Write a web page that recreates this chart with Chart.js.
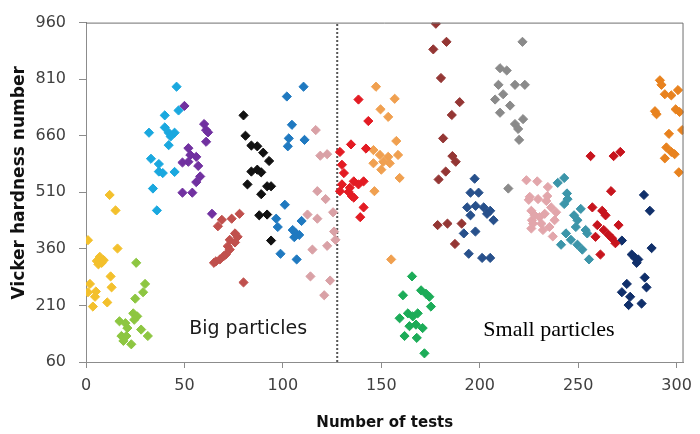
<!DOCTYPE html>
<html>
<head>
<meta charset="utf-8">
<script src="https://cdn.jsdelivr.net/npm/chart.js@4/dist/chart.umd.min.js"></script>
<style>
  html, body { margin: 0; padding: 0; background: #ffffff; }
  #wrap { width: 700px; height: 434px; }
</style>
</head>
<body>
<div id="wrap"><canvas id="c" width="700" height="434"></canvas></div>
<script>
// ---------- data ----------
const xTickValues = [0, 50, 100, 150, 200, 250, 300];
const yTickValues = [60, 210, 360, 510, 660, 810, 960];
const xTitle = 'Number of tests';
const yTitle = 'Vicker hardness number';
const dividerX = 127.6;
const labelBig = 'Big particles';
const labelSmall = 'Small particles';

const goldPts = [[12,503],[15,462],[1,383],[16,361],[7,339],[5.5,328],[8,323],[6.3,319],[9,330],[12.5,287],[13,258],[2,267],[1,245],[5,247],[4.6,233],[10.8,218],[3.5,207]];
const limePts = [[25.5,323],[30,267],[29,245],[25,228],[24,189],[26,181],[24.5,172],[17,168],[20,163],[21,150],[28,146],[31.4,129],[18,129],[20.5,129],[19,116],[23,107]];
const cyanPts = [[46,790],[47,727],[40,714],[32,668],[40,682],[42,668],[45,668],[43,658],[42,635],[33,599],[37,585],[37,565],[39,561],[45,564],[34,520],[36,462]];
const purplePts = [[50,739],[60,691],[61,675],[62,669],[61,644],[52,627],[53,609],[56,604],[49,589],[52,591],[57,580],[58,552],[56,537],[49,509],[54,509],[64,453]];
const brickPts = [[65,323],[66,327],[67,420],[68,332],[69,437],[70,341],[71,345],[72,367],[73,358],[73,384],[74,440],[75.7,401],[75.7,377],[77,392],[78,453],[80,271]];
const blackPts = [[80,714],[81,660],[84,634],[87,632],[90,615],[93,593],[84,565],[87,570],[89,563],[82,531],[92,526],[94,526],[89,505],[88,449],[92,451],[94,382]];
const bluePts = [[102,764],[110.5,790],[104.6,689],[103,653],[102.5,632],[111,649],[101,477],[96.6,440],[97.4,418],[109.5,434],[105,410],[106.6,401],[108.3,397],[105.8,391],[98.8,347],[107,332]];
const rosePts = [[116.7,675],[119,607],[122.5,611],[117.5,513],[121.7,492],[112.5,451],[117.5,440],[125.5,457],[126,406],[126.7,384],[122.5,368],[115,358],[114,287],[124,276],[121,237]];
const redPts = [[138.4,756],[143.4,699],[129,617],[134.6,637],[142.2,626],[130,583],[131,561],[130,531],[136,539],[141,539],[138.4,531],[129,513],[133.4,511],[135,500],[134,522],[136,496],[141,470],[139.3,444]];
const apricotPts = [[147.3,790],[156.8,758],[149.6,730],[153.5,710],[157.6,646],[146,622],[149.3,609],[153.5,604],[158.5,609],[151,591],[146,587],[154.3,587],[150,570],[159.3,548],[146.5,513],[155,332]];
const maroonPts = [[177.7,957],[176.4,889],[183.1,909],[180.3,813],[189.8,749],[185.8,715],[181.4,653],[186.1,606],[187.8,591],[182.7,565],[179.1,544],[178.6,423],[183.6,427],[190.8,427],[187.4,373]];
const greenPts = [[165.6,287],[161,237],[170.2,250],[172.7,241],[174.4,233],[175.2,207],[159.3,176],[163.5,189],[166,181],[168.5,189],[164.3,155],[167.6,159],[171,150],[161.8,129],[168,124],[171.9,83]];
const steelPts = [[197.4,546],[195.3,509],[199.4,509],[193.6,470],[197.9,474],[202,470],[205.3,461],[203.7,453],[207,436],[195.3,449],[191.9,401],[197.8,406],[194.4,347],[201.2,336],[205.3,336]];
const grayPts = [[221.7,909],[210.3,839],[213.7,833],[209.5,795],[217.9,795],[222.9,795],[211.9,770],[207.8,756],[215.4,740],[210.3,721],[222,704],[217.9,691],[219.5,678],[220,649],[214.5,520]];
const blushPts = [[223.7,542],[229.2,539],[234.6,524],[225.4,498],[234.3,500],[224.9,490],[226.2,461],[226.5,436],[226.2,414],[229.6,492],[233.8,487],[236.3,470],[227.9,449],[230.4,444],[233,453],[238.8,457],[231.3,427],[235.4,418],[227.1,427],[238,436],[237.1,393],[232.1,410]];
const tealPts = [[239.6,535],[242.9,548],[244.3,507],[244.6,492],[242.9,479],[251.3,466],[247.9,449],[249.6,436],[248.8,418],[253.8,410],[254.6,401],[243.8,401],[246.3,384],[241.3,371],[249.6,371],[252.1,358],[255.5,332]];
const crimsonPts = [[256.3,606],[268,606],[271.4,617],[266.7,513],[257.2,470],[262.2,461],[263.9,449],[259.7,423],[270.5,423],[263,410],[265.5,397],[267.2,388],[258.8,392],[268.9,375],[261.3,345]];
const navyPts = [[283.4,503],[286.4,461],[287.3,362],[272.2,382],[277.2,345],[278.9,336],[279.7,323],[280.5,332],[283.8,284],[274.7,267],[284.7,258],[272.2,245],[276.4,233],[282.2,215],[275.6,211]];
const orangePts = [[291.5,807],[292.3,795],[294,770],[297.3,767],[300.7,781],[289,725],[289.8,717],[299.5,730],[301.5,723],[302.8,675],[296.1,665],[294.8,629],[297.3,617],[299,611],[294,600],[301.1,563]];

// ---------- build chart ----------
const groups = [
  [goldPts, '#F3C02C'], [limePts, '#8DC641'], [cyanPts, '#1AA8DF'], [purplePts, '#7131A0'],
  [brickPts, '#C0504D'], [blackPts, '#111111'], [bluePts, '#1F79C0'], [rosePts, '#D9A1A6'],
  [redPts, '#E31B23'], [apricotPts, '#F0A050'], [maroonPts, '#943634'], [greenPts, '#1CAC58'],
  [steelPts, '#27508B'], [grayPts, '#8A8A8A'], [blushPts, '#E2A6AB'], [tealPts, '#3C95A9'],
  [crimsonPts, '#C7141D'], [navyPts, '#102F6A'], [orangePts, '#E8821E']
];

const datasets = groups.map(([pts, col]) => ({
  type: 'scatter',
  data: pts.map(([x, y]) => ({x, y})),
  backgroundColor: col,
  borderColor: col,
  borderWidth: 1,
  pointStyle: 'rectRot',
  pointRadius: 4.6,
  pointHoverRadius: 4.6,
  order: 1
}));

datasets.push({
  type: 'line',
  data: [{x: dividerX, y: yTickValues[0]}, {x: dividerX, y: yTickValues[yTickValues.length - 1]}],
  borderColor: '#555555',
  borderWidth: 2,
  borderDash: [2, 2],
  pointRadius: 0,
  fill: false,
  order: 100
});

const framePlugin = {
  id: 'frame',
  afterDatasetsDraw(chart) {
    const {ctx, chartArea: a, scales} = chart;
    ctx.save();
    ctx.strokeStyle = '#6f6f6f';
    ctx.lineWidth = 1;
    ctx.beginPath();
    ctx.moveTo(a.left, a.top + 0.5);
    ctx.lineTo(a.right - 0.5, a.top + 0.5);
    ctx.lineTo(a.right - 0.5, a.bottom);
    ctx.stroke();
    // region labels
    ctx.fillStyle = '#1a1a1a';
    ctx.textBaseline = 'alphabetic';
    ctx.textAlign = 'left';
    ctx.font = '19px "DejaVu Sans"';
    ctx.fillText(labelBig, scales.x.getPixelForValue(52.4), scales.y.getPixelForValue(134));
    ctx.fillStyle = '#000000';
    ctx.font = '22px "Liberation Serif"';
    ctx.fillText(labelSmall, scales.x.getPixelForValue(201.8), scales.y.getPixelForValue(129));
    // y axis title
    ctx.save();
    ctx.translate(20, scales.y.getPixelForValue(535));
    ctx.rotate(-Math.PI / 2);
    ctx.textAlign = 'center';
    ctx.textBaseline = 'middle';
    ctx.fillStyle = '#111111';
    ctx.font = 'bold 17px "DejaVu Sans"';
    ctx.fillText(yTitle, 0, 0);
    ctx.restore();
    ctx.restore();
  }
};

new Chart(document.getElementById('c'), {
  type: 'scatter',
  data: {datasets},
  plugins: [framePlugin],
  options: {
    responsive: false,
    devicePixelRatio: 1,
    animation: false,
    layout: {padding: {top: 13, right: 9, bottom: 0, left: 0}},
    plugins: {legend: {display: false}, tooltip: {enabled: false}},
    scales: {
      x: {
        type: 'linear',
        min: 0,
        max: 303.5,
        afterBuildTicks: s => { s.ticks = xTickValues.map(v => ({value: v})); },
        afterFit: s => { s.height = 72; },
        grid: {drawOnChartArea: false, drawTicks: true, tickLength: 6, color: '#8c8c8c'},
        border: {display: true, color: '#8c8c8c', width: 1},
        ticks: {color: '#404040', font: {family: 'DejaVu Sans', size: 16}, padding: 8, maxRotation: 0},
        title: {display: true, text: xTitle, color: '#111111',
                font: {family: 'DejaVu Sans', size: 15, weight: 'bold'}, padding: {top: 0, bottom: 2}}
      },
      y: {
        type: 'linear',
        min: 60,
        max: 960,
        afterBuildTicks: s => { s.ticks = yTickValues.map(v => ({value: v})); },
        afterFit: s => { s.width = 86; },
        grid: {drawOnChartArea: false, drawTicks: true, tickLength: 7, color: '#8c8c8c'},
        border: {display: true, color: '#8c8c8c', width: 1},
        ticks: {color: '#404040', font: {family: 'DejaVu Sans', size: 16}, padding: 13},
        title: {display: false}
      }
    }
  }
});
</script>
</body>
</html>
